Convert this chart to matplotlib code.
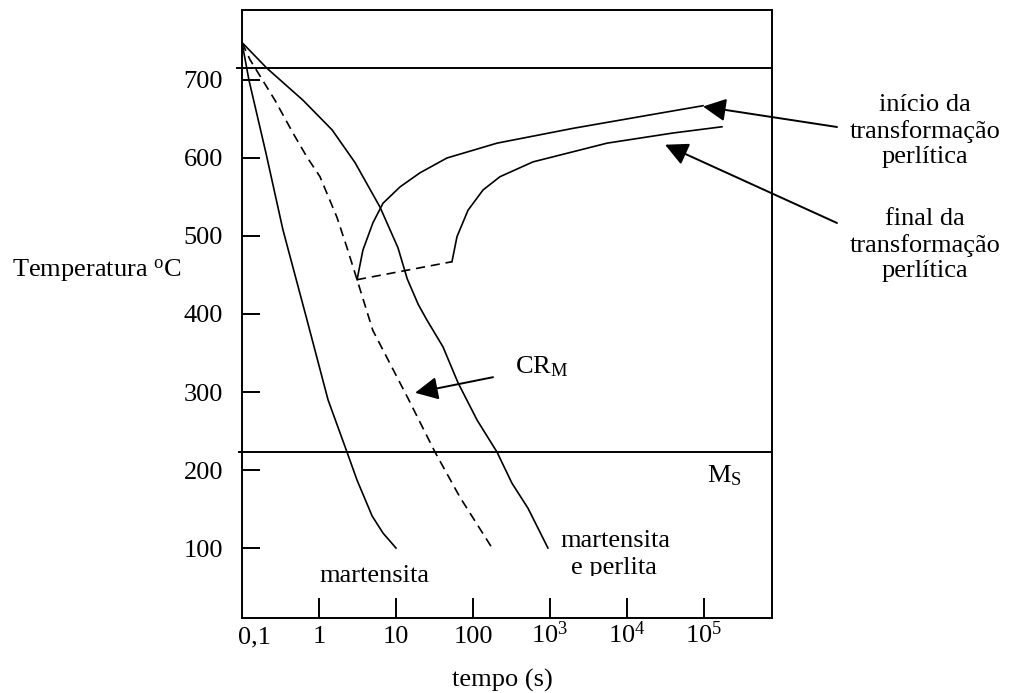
import matplotlib
matplotlib.use('Agg')
import matplotlib.pyplot as plt
from matplotlib.transforms import Bbox, TransformedBbox

plt.rcParams['font.family'] = 'Liberation Serif'
plt.rcParams['mathtext.default'] = 'regular'

t_mart = [0.1, 0.123, 0.205, 0.34, 0.70, 1.31, 2.31, 3.12, 4.9, 6.8, 10]
T_mart = [748, 700, 606, 508, 392, 290, 223, 187, 141, 119, 100]

t_crm = [0.1, 0.127, 0.268, 0.459, 0.70, 1.03, 1.71, 2.31, 3.12, 5.0, 14.3, 32.1, 67.8, 177]
T_crm = [748, 726, 674, 632, 601, 576, 524, 485, 444, 379, 292, 223, 165, 100]

t_mp = [0.1, 0.211, 0.62, 1.48, 2.94, 6.2, 10.6, 14.0, 19.5, 25.3, 40.7, 63.8, 113, 205, 321, 518, 940]
T_mp = [748, 715, 674, 636, 594, 537, 485, 445, 412, 392, 358, 312, 264, 223, 183, 151, 100]

t_inicio = [3.12, 3.72, 5.02, 6.78, 11.3, 20.5, 45.9, 205, 1990, 14760, 33040, 97000]
T_inicio = [444, 482, 517, 542, 563, 581, 600, 619, 638, 653, 659, 667]

t_final = [53.3, 61.9, 86.1, 135, 224, 601, 1660, 5500, 39500, 171000]
T_final = [467, 499, 533, 559, 576, 595, 606, 619, 632, 640]

# ligacao tracejada entre o nariz e o fim da transformacao
t_nariz = [3.12, 53.3]
T_nariz = [444, 467]

T_A1 = 715
T_MS = 223

y_ticks = [100, 200, 300, 400, 500, 600, 700]
x_ticks = [1, 10, 100, 1e3, 1e4, 1e5]
x_labels = ['1', '10', '100', '10$^3$', '10$^4$', '10$^5$']

W, H = 1011, 693


def fx(px):
    return px / W


def fy(py):
    return 1 - py / H


def main():
    fig = plt.figure(figsize=(W / 100, H / 100), dpi=100)
    ax = fig.add_axes([fx(242), fy(618), (772 - 242) / W, (618 - 10) / H])

    lw = 1.2
    dash = (0, (5.5, 3.5))
    ax.plot(t_mart, T_mart, 'k-', lw=lw)
    ax.plot(t_mp, T_mp, 'k-', lw=lw)
    ax.plot(t_crm, T_crm, 'k', lw=lw, linestyle=dash)
    ax.plot(t_nariz, T_nariz, 'k', lw=lw, linestyle=dash)
    ax.plot(t_inicio, T_inicio, 'k-', lw=lw)
    ax.plot(t_final, T_final, 'k-', lw=lw)

    ax.axhline(T_A1, xmin=-0.01, xmax=1, color='k', lw=1.4, clip_on=False)
    ax.axhline(T_MS, xmin=-0.006, xmax=1, color='k', lw=1.4, clip_on=False)

    ax.set_xscale('log')
    ax.set_xlim(0.1, 7.64e5)
    ax.set_ylim(10.3, 789.7)
    ax.minorticks_off()

    for s in ax.spines.values():
        s.set_linewidth(1.4)

    fs = 19
    ax.set_yticks(y_ticks)
    ax.set_yticklabels([str(v) for v in y_ticks])
    ax.set_xticks(x_ticks)
    ax.set_xticklabels(x_labels, va='baseline')
    ax.tick_params(axis='y', direction='in', length=13, width=1.4, pad=13.7, labelsize=fs)
    ax.tick_params(axis='x', direction='in', length=14.5, width=1.4, pad=18, labelsize=fs)

    fig.text(fx(254), fy(643), '0,1', fontsize=fs, ha='center', va='baseline')
    fig.text(fx(502), fy(680), 'tempo (s)', fontsize=fs, ha='center', va='center')
    fig.text(fx(97), fy(277), 'Temperatura $^o$C', fontsize=fs, ha='center', va='baseline')

    fig.text(fx(515), fy(373), 'CR$_M$', fontsize=fs, ha='left', va='baseline')
    fig.text(fx(707), fy(482), 'M$_S$', fontsize=fs, ha='left', va='baseline')
    fig.text(fx(374), fy(582), 'martensita', fontsize=fs, ha='center', va='baseline')
    fig.text(fx(615), fy(547), 'martensita', fontsize=fs, ha='center', va='baseline')
    ep = fig.text(fx(614), fy(574), 'e perlita', fontsize=fs, ha='center', va='baseline')
    ep.set_clip_box(TransformedBbox(Bbox([[0, fy(576)], [1, 1]]), fig.transFigure))
    ep.set_clip_on(True)

    fig.text(fx(925), fy(131), 'início da\ntransformação\nperlítica', fontsize=fs,
             ha='center', va='center', linespacing=1.2)
    fig.text(fx(925), fy(245), 'final da\ntransformação\nperlítica', fontsize=fs,
             ha='center', va='center', linespacing=1.2)

    seta = dict(arrowstyle='-|>,head_length=0.7,head_width=0.35', mutation_scale=20,
                color='k', lw=1.4, shrinkA=0, shrinkB=0)
    ax.annotate('', xy=(97000, 666), xycoords='data',
                xytext=(837, H - 127), textcoords='figure pixels', arrowprops=seta)
    ax.annotate('', xy=(31200, 617), xycoords='data',
                xytext=(837, H - 223), textcoords='figure pixels', arrowprops=seta)
    ax.annotate('', xy=(17.7, 299), xycoords='data',
                xytext=(182, 319), textcoords='data', arrowprops=seta)

    fig.savefig('out.png', dpi=100)


if __name__ == '__main__':
    main()
